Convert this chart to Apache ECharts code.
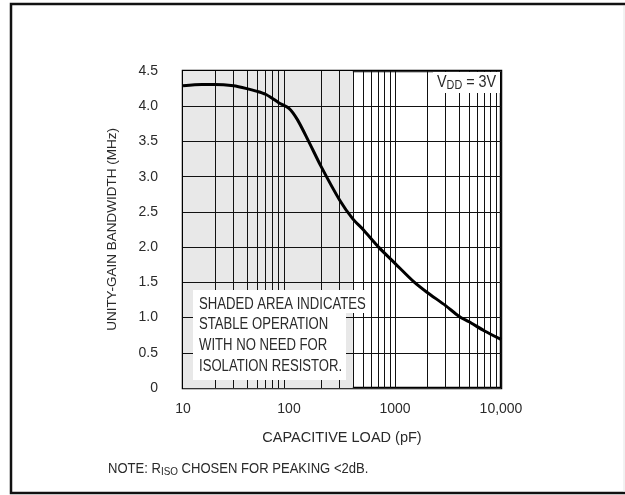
<!DOCTYPE html>
<html>
<head>
<meta charset="utf-8">
<script src="https://cdn.jsdelivr.net/npm/echarts@6/dist/echarts.min.js"></script>
<style>
html,body{margin:0;padding:0;background:#fff;}
#chart{width:625px;height:495px;}
</style>
</head>
<body>
<div id="chart"></div>
<script>
// ---- data ----
var capLoad = [10, 15, 20, 30, 40, 50, 60, 70, 80, 100, 120, 150, 200, 300, 400, 500, 700, 1000, 1500, 2000, 3000, 4000, 5000, 7000, 10000];
var bandwidth = [4.29, 4.31, 4.31, 4.29, 4.25, 4.21, 4.17, 4.11, 4.05, 3.97, 3.81, 3.53, 3.15, 2.67, 2.40, 2.25, 2.00, 1.77, 1.51, 1.36, 1.17, 1.02, 0.94, 0.81, 0.69];
var minorGridX = [20, 30, 40, 50, 60, 70, 80, 90, 200, 300, 400, 500, 600, 700, 800, 900, 2000, 3000, 4000, 5000, 6000, 7000, 8000, 9000];
var gridY = [0.5, 1.0, 1.5, 2.0, 2.5, 3.0, 3.5, 4.0];
var xTickValues = [10, 100, 1000, 10000];
var xTickLabels = ['10', '100', '1000', '10,000'];
var shadedRange = [10, 400];
var yMin = 0, yMax = 4.5, yStep = 0.5;
var textLines = ['SHADED AREA INDICATES', 'STABLE OPERATION', 'WITH NO NEED FOR', 'ISOLATION RESISTOR.'];

var FONT = '"Liberation Sans", Arial, Helvetica, sans-serif';
var TXT = '#2a2a2a';

var chart = echarts.init(document.getElementById('chart'), null, {renderer: 'canvas'});

var curve = capLoad.map(function (c, i) { return [c, bandwidth[i]]; });
var gridLines = minorGridX.map(function (v) { return {xAxis: v}; })
  .concat(gridY.map(function (v) { return {yAxis: v}; }));

var option = {
  animation: false,
  backgroundColor: '#fff',
  grid: {
    left: 183, right: 124, top: 71, bottom: 107,
    show: true, borderColor: '#000', borderWidth: 2.5, backgroundColor: 'transparent'
  },
  xAxis: {
    type: 'log', logBase: 10, min: 10, max: 10000,
    name: 'CAPACITIVE LOAD (pF)', nameLocation: 'middle', nameGap: 42,
    nameTextStyle: {fontFamily: FONT, fontSize: 14.5, color: TXT},
    axisLine: {show: false},
    axisTick: {show: false},
    axisLabel: {
      margin: 14, fontFamily: FONT, fontSize: 14, color: TXT,
      formatter: function (v) {
        var k = xTickValues.indexOf(Math.round(v));
        return k >= 0 ? xTickLabels[k] : '';
      }
    },
    splitLine: {show: true, lineStyle: {color: '#111', width: 1}}
  },
  yAxis: {
    type: 'value', min: yMin, max: yMax, interval: yStep,
    name: 'UNITY-GAIN BANDWIDTH (MHz)', nameLocation: 'middle', nameGap: 64, nameRotate: 90,
    nameTextStyle: {fontFamily: FONT, fontSize: 13.5, color: TXT},
    axisLine: {show: false},
    axisTick: {show: false},
    axisLabel: {
      margin: 25, fontFamily: FONT, fontSize: 14, color: TXT,
      formatter: function (v) { return v === 0 ? '0' : v.toFixed(1); }
    },
    splitLine: {show: true, lineStyle: {color: '#333', width: 1}}
  },
  series: [
    {
      name: 'shade', type: 'line', data: [], z: -1, silent: true,
      markArea: {
        silent: true,
        itemStyle: {color: '#e8e8e8'},
        data: [[{xAxis: shadedRange[0], yAxis: yMin}, {xAxis: shadedRange[1], yAxis: yMax}]]
      }
    },
    {
      name: 'grid', type: 'line', data: [], z: 1, silent: true,
      markLine: {
        silent: true, symbol: 'none', label: {show: false},
        lineStyle: {color: '#111', width: 1, type: 'solid'},
        data: gridLines
      }
    },
    {
      name: 'bw', type: 'line', data: curve, smooth: 0.25, showSymbol: false, z: 5,
      lineStyle: {color: '#000', width: 3}
    }
  ],
  graphic: [
    {type: 'rect', z: 200, shape: {x: 11, y: 4, width: 630, height: 489},
     style: {fill: 'none', stroke: '#111', lineWidth: 2.5}},
    {type: 'line', z: 200, shape: {x1: 624, y1: 6, x2: 624, y2: 492}, style: {stroke: '#e4e4e4', lineWidth: 1}},
    {type: 'rect', z: 100, shape: {x: 433, y: 72, width: 67, height: 21}, style: {fill: '#fff'}},
    {type: 'text', z: 101, x: 437, y: 74, scaleX: 0.9,
     style: {
       text: '{v|V}{s|DD}{v| = 3V}',
       rich: {
         v: {fontFamily: FONT, fontSize: 16, fill: TXT},
         s: {fontFamily: FONT, fontSize: 12, fill: TXT, padding: [6, 0, 0, 0]}
       }
     }},
    {type: 'rect', z: 100, shape: {x: 193, y: 290, width: 173, height: 23}, style: {fill: '#fff'}},
    {type: 'rect', z: 100, shape: {x: 193, y: 312, width: 153, height: 68}, style: {fill: '#fff'}},
    {type: 'text', z: 101, x: 199, y: 294, scaleX: 0.82,
     style: {text: textLines.join('\n'), fontFamily: FONT, fontSize: 16, lineHeight: 20.6, fill: TXT}},
    {type: 'text', z: 101, x: 108, y: 461, scaleX: 0.9,
     style: {
       text: '{n|NOTE: R}{s|ISO}{n| CHOSEN FOR PEAKING <2dB.}',
       rich: {
         n: {fontFamily: FONT, fontSize: 14.5, fill: TXT},
         s: {fontFamily: FONT, fontSize: 11, fill: TXT, padding: [5, 0, 0, 0]}
       }
     }}
  ]
};
chart.setOption(option);
</script>
</body>
</html>
